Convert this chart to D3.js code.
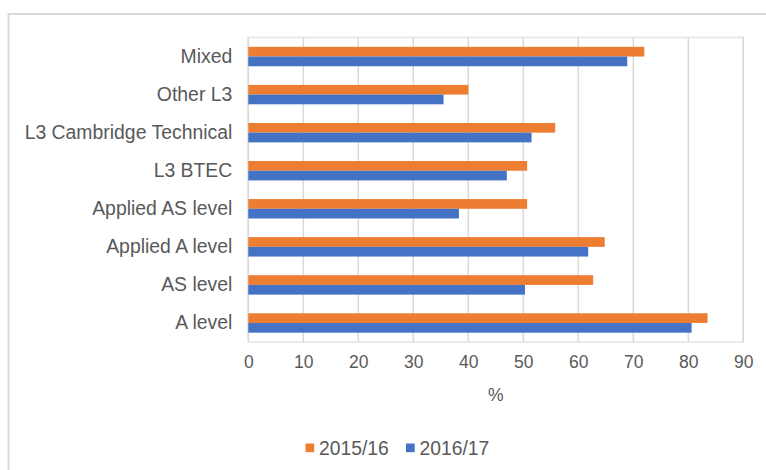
<!DOCTYPE html>
<html>
<head>
<meta charset="utf-8">
<script src="https://cdn.jsdelivr.net/npm/d3@7"></script>
<style>
  body { margin: 0; background: #fff; }
  svg { display: block; font-family: "Liberation Sans", Arial, sans-serif; }
</style>
</head>
<body>
<div id="chart"></div>
<script>
var CATEGORIES = ["Mixed", "Other L3", "L3 Cambridge Technical", "L3 BTEC",
                  "Applied AS level", "Applied A level", "AS level", "A level"];
var SERIES = ["2015/16", "2016/17"];
var VALUES_2015 = [72.0, 40.0, 55.8, 50.7, 50.7, 64.8, 62.7, 83.5];
var VALUES_2016 = [68.9, 35.5, 51.5, 47.0, 38.3, 61.8, 50.3, 80.6];
var X_TICKS = [0, 10, 20, 30, 40, 50, 60, 70, 80, 90];

var WIDTH = 766;
var HEIGHT = 470;
var COLORS = ["#ED7D31", "#4472C4"];
var TEXT = "#595959";
var GRID = "#d9d9d9";

function init() {
    SVG = d3.select("div#chart").append("svg")
        .attr("width", WIDTH)
        .attr("height", HEIGHT);

    // outer chart frame (runs off the picture on the right and bottom)
    SVG.append("rect")
        .attr("x", 8.5).attr("y", 14)
        .attr("width", 800).attr("height", 500)
        .attr("fill", "none")
        .attr("stroke", GRID)
        .attr("stroke-width", 2);

    let plot = { left: 248.3, right: 743.3, top: 37.5, bottom: 342 };

    let x = d3.scaleLinear().domain([0, 90]).range([plot.left, plot.right]);
    let y = d3.scaleBand().domain(CATEGORIES)
        .range([plot.top, plot.bottom])
        .paddingInner(0.49)
        .paddingOuter(0.245);
    let ySub = d3.scaleBand().domain(SERIES).range([0, y.bandwidth()]);

    // plot border + vertical gridlines
    SVG.append("rect")
        .attr("x", plot.left).attr("y", plot.top)
        .attr("width", plot.right - plot.left)
        .attr("height", plot.bottom - plot.top)
        .attr("fill", "none")
        .attr("stroke", "#e3e3e3")
        .attr("stroke-width", 1.5);

    SVG.append("g").attr("class", "grid")
        .selectAll("line").data(X_TICKS).enter().append("line")
        .attr("x1", d => x(d)).attr("x2", d => x(d))
        .attr("y1", plot.top).attr("y2", plot.bottom)
        .attr("stroke", GRID)
        .attr("stroke-width", 1.5);

    // bars
    let rows = CATEGORIES.map((c, i) => ({ cat: c, vals: [VALUES_2015[i], VALUES_2016[i]] }));
    SVG.append("g").attr("class", "bars")
        .selectAll("g").data(rows).enter().append("g")
        .attr("transform", d => `translate(0,${y(d.cat)})`)
        .selectAll("rect").data(d => d.vals.map((v, j) => ({ s: SERIES[j], v: v, j: j })))
        .enter().append("rect")
        .attr("x", x(0))
        .attr("y", d => ySub(d.s))
        .attr("width", d => x(d.v) - x(0))
        .attr("height", ySub.bandwidth())
        .attr("fill", d => COLORS[d.j]);

    // category labels
    let yAxis = d3.axisLeft(y).tickSize(0).tickPadding(16);
    let gy = SVG.append("g")
        .attr("transform", `translate(${plot.left},0)`)
        .call(yAxis);
    gy.select(".domain").remove();
    gy.selectAll("text")
        .attr("fill", TEXT)
        .style("font-size", "19.4px");

    // value ticks
    let xAxis = d3.axisBottom(x).tickValues(X_TICKS).tickSize(0).tickPadding(14);
    let gx = SVG.append("g")
        .attr("transform", `translate(0,${plot.bottom})`)
        .call(xAxis);
    gx.select(".domain").remove();
    gx.selectAll("text")
        .attr("fill", TEXT)
        .style("font-size", "17.5px");

    SVG.append("text")
        .attr("x", (plot.left + plot.right) / 2)
        .attr("y", 395)
        .attr("dy", "0.35em")
        .attr("text-anchor", "middle")
        .attr("fill", TEXT)
        .style("font-size", "17.5px")
        .text("%");

    // legend
    let legendX = [305.5, 406];
    let legend = SVG.append("g").attr("class", "legend")
        .selectAll("g").data(SERIES).enter().append("g")
        .attr("transform", (d, i) => `translate(${legendX[i]},443.5)`);
    legend.append("rect")
        .attr("width", 8.7).attr("height", 8.7)
        .attr("fill", (d, i) => COLORS[i]);
    legend.append("text")
        .attr("x", 13.5)
        .attr("y", 4.5)
        .attr("dy", "0.35em")
        .attr("fill", TEXT)
        .style("font-size", "19.3px")
        .text(d => d);
}

init();
</script>
</body>
</html>
